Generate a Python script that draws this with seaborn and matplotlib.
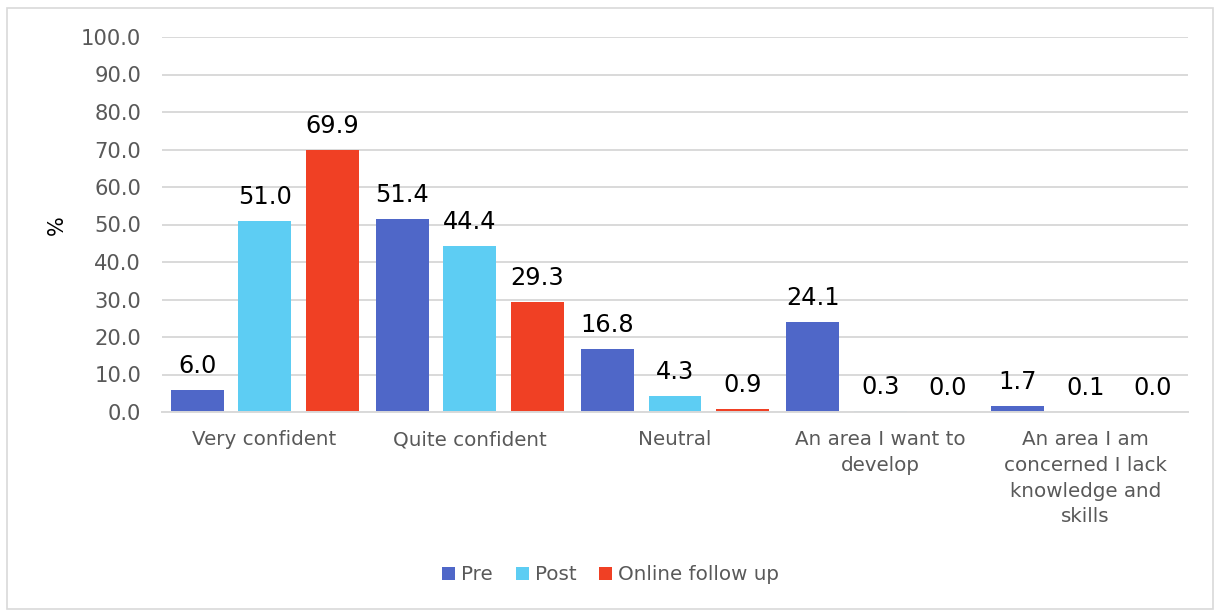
import matplotlib
matplotlib.use("Agg")
import matplotlib.pyplot as plt
import seaborn as sns
import pandas as pd
from matplotlib.patches import Rectangle

categories = ["Very confident", "Quite confident", "Neutral",
              "An area I want to\ndevelop",
              "An area I am\nconcerned I lack\nknowledge and\nskills"]
series_names = ["Pre", "Post", "Online follow up"]
pre = [6.0, 51.4, 16.8, 24.1, 1.7]
post = [51.0, 44.4, 4.3, 0.3, 0.1]
online = [69.9, 29.3, 0.9, 0.0, 0.0]
colors = ["#4F67C8", "#5DCDF3", "#F04024"]
yticks = [0, 10, 20, 30, 40, 50, 60, 70, 80, 90, 100]

rows = []
for name, vals in zip(series_names, [pre, post, online]):
    for c, v in zip(categories, vals):
        rows.append({"category": c, "series": name, "value": v})
df = pd.DataFrame(rows)

sns.set_theme(style="white")
plt.rcParams["font.family"] = ["DejaVu Sans"]

W, H = 1214, 610
fig = plt.figure(figsize=(W / 100, H / 100), dpi=100)
ax = fig.add_axes([162 / W, 1 - 412 / H, (1188 - 162) / W, (412 - 37) / H])

sns.barplot(data=df, x="category", y="value", hue="series", order=categories,
            hue_order=series_names, palette=colors, width=0.987, gap=0.215,
            saturation=1, errorbar=None, ax=ax, legend=True, linewidth=0)

ax.set_xlim(-0.5, len(categories) - 0.5)
ax.set_ylim(0, 100)
ax.set_yticks(yticks)
ax.set_yticklabels([f"{t:.1f}" for t in yticks])
ax.yaxis.grid(True, color="#D9D9D9", linewidth=1.4)
ax.set_axisbelow(True)
for s in ["top", "right", "left"]:
    ax.spines[s].set_visible(False)
ax.spines["bottom"].set_color("#D9D9D9")
ax.spines["bottom"].set_linewidth(1.4)
ax.tick_params(axis="y", length=0, pad=15, labelsize=15.2, labelcolor="#595959")
ax.tick_params(axis="x", length=0, pad=13, labelsize=14.3, labelcolor="#595959")
for lbl in ax.get_xticklabels():
    lbl.set_linespacing(1.45)
ax.set_xlabel("")
ax.set_ylabel("")
fig.text(57 / W, 1 - 225 / H, "%", rotation=90, ha="center", va="center",
         fontsize=15, color="black")

for cont in ax.containers:
    for bar in cont:
        h = bar.get_height()
        ax.annotate(f"{h:.1f}", (bar.get_x() + bar.get_width() / 2, h),
                    xytext=(0, 12.2), textcoords="offset points",
                    ha="center", va="baseline", fontsize=17.3, color="black")

handles, labels = ax.get_legend_handles_labels()
ax.get_legend().remove()
fig.legend(handles, labels, loc="center", bbox_to_anchor=(0.503, 1 - 575 / H),
           ncol=3, frameon=False, fontsize=14.3, labelcolor="#595959",
           handlelength=0.65, handleheight=0.65, handletextpad=0.3,
           columnspacing=1.15)

fig.patches.append(Rectangle((7 / W, 1 / H), (1213 - 7) / W, (609 - 8) / H,
                             transform=fig.transFigure, fill=False,
                             edgecolor="#D9D9D9", linewidth=1.2))

fig.savefig("out.png", dpi=100)
